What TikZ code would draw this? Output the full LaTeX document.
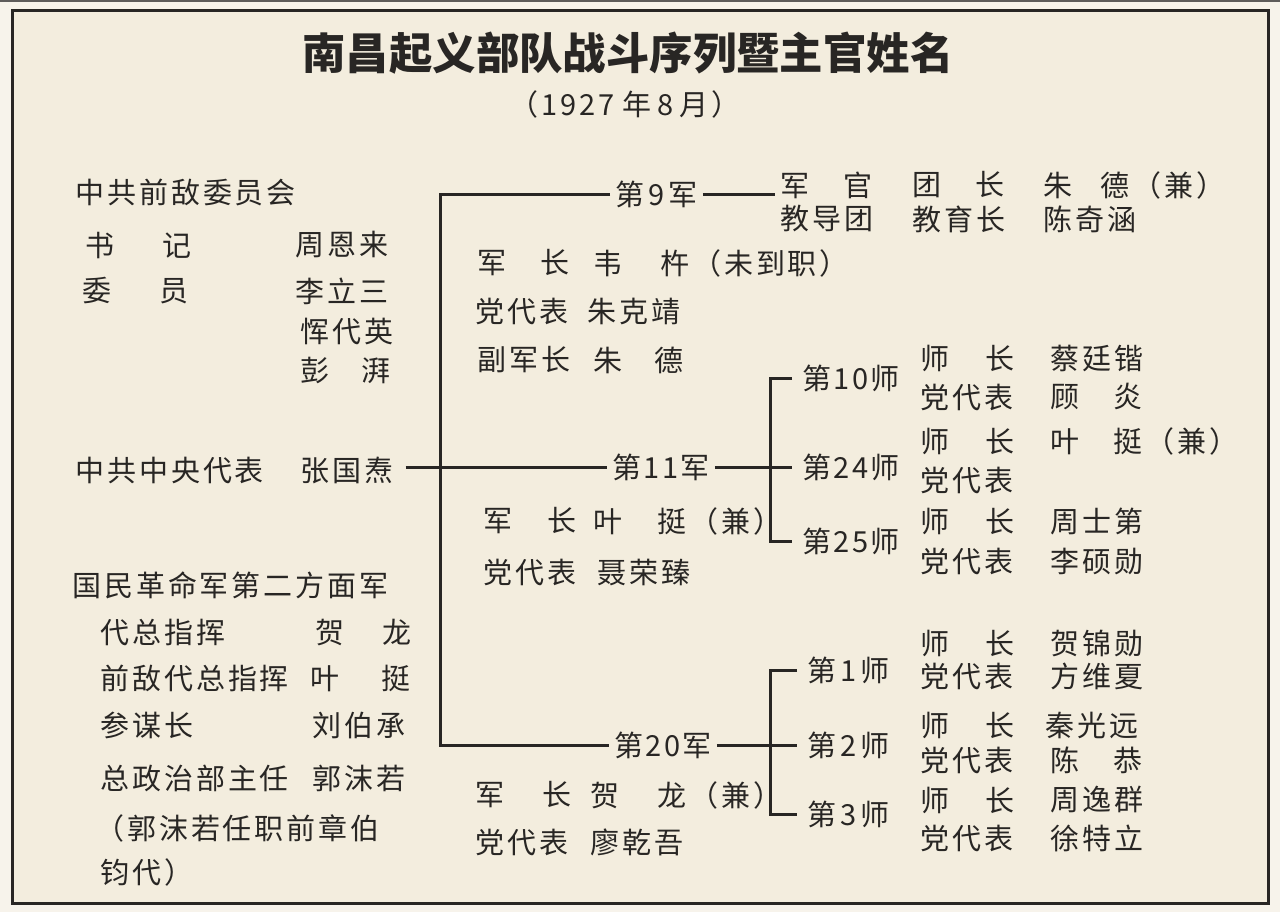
\documentclass[tikz,border=0pt]{standalone}
\usepackage{fontspec}
\usepackage{xcolor}
\usepackage{tikz}
\usetikzlibrary{positioning}
\newfontfamily\cjk[LetterSpace=10]{Noto Sans CJK SC}
\newfontfamily\cjkhead{Noto Sans CJK SC}
\definecolor{paper}{RGB}{243,237,222}
\definecolor{margin}{RGB}{247,243,235}
\definecolor{ink}{RGB}{40,38,36}
\tikzstyle{txt} = [
    anchor=west, inner sep=0pt, text=ink,
    font=\cjk\fontsize{14.5pt}{17pt}\selectfont
]
\tikzstyle{unit} = [txt, inner xsep=2.5pt]
\tikzstyle{link} = [draw=ink, line width=1.5pt]

\begin{document}
\begin{tikzpicture}[x=0.5pt, y=-0.5pt]
    \useasboundingbox (0,0) rectangle (1280,912);
    \fill[margin] (0,0) rectangle (1280,912);
    \fill[ink!75] (0,0) rectangle (1280,2);
    \fill[paper] (12,10) rectangle (1268,903);
    \draw[ink, line width=1.5pt] (12,10) rectangle (1268,903);

    \node [font=\cjkhead\bfseries\fontsize{21.7pt}{25pt}\selectfont, text=ink] (title) at (628,53) {南昌起义部队战斗序列暨主官姓名};
    \node [txt, anchor=center] (date) at (625,104) {（1927\hspace{4pt}年\hspace{3pt}8\hspace{3pt}月）};

    % left column
    \node [txt] (qwh) at (75,192) {中共前敌委员会};
    \node [txt] (shuji) at (85,245) {书\hspace{24pt}记};
    \node [txt] (zel) at (295,245) {周恩来};
    \node [txt] (weiyuan) at (82,291) {委\hspace{24pt}员};
    \node [txt] (lls) at (295,291) {李立三};
    \node [txt] (ydy) at (300,331) {恽代英};
    \node [txt] (pp) at (300,370) {彭\hspace{16pt}湃};
    \node [txt] (zydb) at (75,470) {中共中央代表};
    \node [txt] (zgt) at (300,470) {张国焘};
    \node [txt] (fmj) at (72,585) {国民革命军第二方面军};
    \node [txt] (dzh) at (100,632) {代总指挥};
    \node [txt] (hl) at (315,632) {贺\hspace{19pt}龙};
    \node [txt] (qdz) at (100,678) {前敌代总指挥};
    \node [txt] (yt) at (310,678) {叶\hspace{21pt}挺};
    \node [txt] (cmz) at (100,725) {参谋长};
    \node [txt] (lbc) at (312,725) {刘伯承};
    \node [txt] (zzb) at (100,778) {总政治部主任};
    \node [txt] (gmr) at (312,778) {郭沫若};
    \node [txt] (note1) at (95,828) {（郭沫若任职前章伯};
    \node [txt] (note2) at (100,872) {钧代）};

    % 9th army
    \node [unit] (army9) at (610,194) {第\hspace{2pt}9\hspace{2pt}军};
    \node [txt] (jgt1) at (780,185) {军\hspace{17pt}官};
    \node [txt] (jgt2) at (912,185) {团\hspace{17pt}长};
    \node [txt] (jgt3) at (1043,185) {朱\hspace{14pt}德（兼）};
    \node [txt] (jdt1) at (780,219) {教导团};
    \node [txt] (jdt2) at (912,219) {教育长};
    \node [txt] (jdt3) at (1043,219) {陈奇涵};
    \node [txt] (a9jz) at (477,263) {军\hspace{17pt}长};
    \node [txt] (a9jzn) at (593,263) {韦\hspace{19pt}杵（未到职）};
    \node [txt] (a9dd) at (475,311) {党代表};
    \node [txt] (a9ddn) at (587,311) {朱克靖};
    \node [txt] (a9fj) at (477,360) {副军长};
    \node [txt] (a9fjn) at (593,360) {朱\hspace{16pt}德};

    % 11th army
    \node [unit] (army11) at (607,467) {第\hspace{1pt}11\hspace{1pt}军};
    \node [txt] (a11jz) at (483,521) {军\hspace{17.5pt}长};
    \node [txt] (a11jzn) at (593,521) {叶\hspace{17.5pt}挺（兼）};
    \node [txt] (a11dd) at (483,572) {党代表};
    \node [txt] (a11ddn) at (597,572) {聂荣臻};
    \node [unit, inner xsep=5pt] (div10) at (792,378) {第\hspace{1pt}10\hspace{1pt}师};
    \node [unit, inner xsep=5pt] (div24) at (792,467) {第\hspace{1pt}24\hspace{1pt}师};
    \node [unit, inner xsep=5pt] (div25) at (792,541) {第\hspace{1pt}25\hspace{1pt}师};
    \node [txt] (d10s) at (920,358) {师\hspace{18pt}长};
    \node [txt] (d10sn) at (1050,358) {蔡廷锴};
    \node [txt] (d10d) at (920,397) {党代表};
    \node [txt] (d10dn) at (1050,397) {顾\hspace{17pt}炎};
    \node [txt] (d24s) at (920,441) {师\hspace{18pt}长};
    \node [txt] (d24sn) at (1050,441) {叶\hspace{17pt}挺（兼）};
    \node [txt] (d24d) at (920,480) {党代表};
    \node [txt] (d25s) at (920,521) {师\hspace{18pt}长};
    \node [txt] (d25sn) at (1050,521) {周士第};
    \node [txt] (d25d) at (920,561) {党代表};
    \node [txt] (d25dn) at (1050,561) {李硕勋};

    % 20th army
    \node [unit] (army20) at (609,745) {第\hspace{1pt}20\hspace{1pt}军};
    \node [txt] (a20jz) at (475,795) {军\hspace{19pt}长};
    \node [txt] (a20jzn) at (590,795) {贺\hspace{19pt}龙（兼）};
    \node [txt] (a20dd) at (475,842) {党代表};
    \node [txt] (a20ddn) at (590,842) {廖乾吾};
    \node [unit, inner xsep=5pt] (div1) at (797,670) {第\hspace{2pt}1\hspace{2pt}师};
    \node [unit, inner xsep=5pt] (div2) at (797,745) {第\hspace{2pt}2\hspace{2pt}师};
    \node [unit, inner xsep=5pt] (div3) at (797,814) {第\hspace{2pt}3\hspace{2pt}师};
    \node [txt] (d1s) at (920,643) {师\hspace{18pt}长};
    \node [txt] (d1sn) at (1050,643) {贺锦勋};
    \node [txt] (d1d) at (920,676) {党代表};
    \node [txt] (d1dn) at (1050,676) {方维夏};
    \node [txt] (d2s) at (920,725) {师\hspace{18pt}长};
    \node [txt] (d2sn) at (1045,725) {秦光远};
    \node [txt] (d2d) at (920,760) {党代表};
    \node [txt] (d2dn) at (1050,760) {陈\hspace{17pt}恭};
    \node [txt] (d3s) at (920,800) {师\hspace{18pt}长};
    \node [txt] (d3sn) at (1050,800) {周逸群};
    \node [txt] (d3d) at (920,838) {党代表};
    \node [txt] (d3dn) at (1050,838) {徐特立};

    \coordinate (trunk) at (440,467);
    \coordinate (b11) at (770,467);
    \coordinate (b20) at (770,745);
    \path [link] (army9.west) -| (trunk) |- (army20.west);
    \path [link] ([xshift=6pt]zgt.east |- army11.west) -- (army11.west);
    \path [link] (army9.east) -- ([xshift=-2.5pt]army9.east -| jgt1.west);
    \path [link] (div10.west) -| (b11) |- (div25.west);
    \path [link] (army11.east) -- (div24.west);
    \path [link] (div1.west) -| (b20) |- (div3.west);
    \path [link] (army20.east) -- (div2.west);
\end{tikzpicture}
\end{document}
